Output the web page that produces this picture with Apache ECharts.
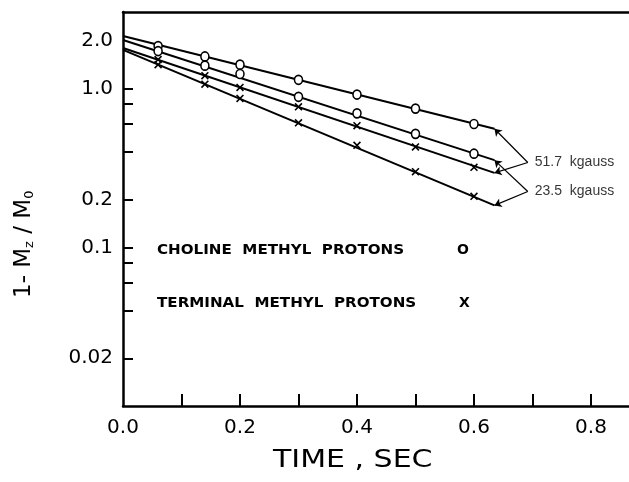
<!DOCTYPE html>
<html>
<head>
<meta charset="utf-8">
<script src="https://cdn.jsdelivr.net/npm/echarts@6.0.0/dist/echarts.min.js"></script>
<style>
html, body { margin: 0; padding: 0; background: #fff; }
#chart { width: 629px; height: 482px; }
</style>
</head>
<body>
<div id="chart"></div>
<script>
// measured times (sec) of the points
var times = [0.06, 0.14, 0.2, 0.3, 0.4, 0.5, 0.6];
// 1 - Mz/M0
var cholineHigh = [1.86, 1.60, 1.42, 1.14, 0.92, 0.75, 0.60];   // 51.7 kgauss, o
var cholineLow = [1.73, 1.40, 1.24, 0.89, 0.70, 0.52, 0.39];    // 23.5 kgauss, o
var terminalHigh = [1.53, 1.21, 1.02, 0.77, 0.585, 0.43, 0.32]; // 51.7 kgauss, x
var terminalLow = [1.42, 1.07, 0.87, 0.61, 0.44, 0.30, 0.21];   // 23.5 kgauss, x

// fitted straight lines: value at start and end time
var fitTimes = [0, 0.635];
var fitCholineHigh = [2.15, 0.56];
var fitCholineLow = [2.03, 0.355];
var fitTerminalHigh = [1.81, 0.295];
var fitTerminalLow = [1.76, 0.184];

// where the label arrows meet
var joint517 = [0.692, 0.343];
var joint235 = [0.692, 0.225];
var fieldLabels = ['51.7  kgauss', '23.5  kgauss'];

var xLabelValues = [0, 0.2, 0.4, 0.6, 0.8];
var xTickValues = [0.1, 0.2, 0.3, 0.4, 0.5, 0.6, 0.7, 0.8];
var yLabelValues = [0.02, 0.1, 0.2, 1, 2];
var yTickValues = [0.02, 0.04, 0.06, 0.08, 0.1, 0.2, 0.4, 0.6, 0.8, 1];

var font = 'DejaVu Sans';
var crossPath = 'path://M0,1.4L1.4,0L10,8.6L8.6,10Z M8.6,0L10,1.4L1.4,10L0,8.6Z';

function pairs(xs, ys) {
  return xs.map(function (x, i) { return [x, ys[i]]; });
}

function fitSeries(vals, joint) {
  return {
    type: 'line',
    data: pairs(fitTimes, vals),
    symbol: 'none',
    lineStyle: { color: '#000', width: 2 },
    silent: true,
    markLine: {
      silent: true,
      symbol: ['none', 'arrow'],
      symbolSize: 7,
      label: { show: false },
      lineStyle: { color: '#000', width: 1.2, type: 'solid' },
      data: [[{ coord: joint }, { coord: [fitTimes[1], vals[1]] }]]
    }
  };
}

function pointSeries(vals, symbol) {
  return {
    type: 'scatter',
    data: pairs(times, vals),
    symbol: symbol,
    symbolSize: symbol === 'circle' ? [8, 9] : 8,
    itemStyle: symbol === 'circle'
      ? { color: '#fff', borderColor: '#000', borderWidth: 1.6, opacity: 1 }
      : { color: '#000', opacity: 1 },
    z: 5
  };
}

var chart = echarts.init(document.getElementById('chart'));
chart.setOption({
  animation: false,
  backgroundColor: '#fff',
  grid: { left: 123, top: 12, right: 0, bottom: 76 },
  xAxis: [{
    type: 'value',
    min: 0,
    max: 0.865,
    axisLine: { lineStyle: { color: '#000', width: 2.5 } },
    axisTick: { inside: true, length: 12, customValues: xTickValues, lineStyle: { color: '#000', width: 2 } },
    axisLabel: {
      customValues: xLabelValues,
      margin: 12,
      color: '#000',
      fontFamily: font,
      fontSize: 20,
      formatter: function (v) { return v.toFixed(1); }
    },
    splitLine: { show: false }
  }, {
    type: 'value',
    position: 'top',
    min: 0,
    max: 0.865,
    axisLine: { show: true, lineStyle: { color: '#000', width: 2.5 } },
    axisTick: { show: false },
    axisLabel: { show: false },
    splitLine: { show: false }
  }],
  yAxis: {
    type: 'log',
    logBase: 10,
    min: 0.01,
    max: 3.05,
    axisLine: { show: true, lineStyle: { color: '#000', width: 2.5 } },
    axisTick: { show: true, inside: true, length: 10, customValues: yTickValues, lineStyle: { color: '#000', width: 2 } },
    axisLabel: {
      customValues: yLabelValues,
      margin: 10,
      color: '#000',
      fontFamily: font,
      fontSize: 20,
      formatter: function (v) { return v >= 1 ? v.toFixed(1) : String(+v.toPrecision(2)); }
    },
    splitLine: { show: false },
    minorTick: { show: false }
  },
  series: [
    fitSeries(fitCholineHigh, joint517),
    fitSeries(fitCholineLow, joint235),
    fitSeries(fitTerminalHigh, joint517),
    fitSeries(fitTerminalLow, joint235),
    pointSeries(cholineHigh, 'circle'),
    pointSeries(cholineLow, 'circle'),
    pointSeries(terminalHigh, crossPath),
    pointSeries(terminalLow, crossPath),
    {
      type: 'scatter',
      symbolSize: 0,
      silent: true,
      data: [[joint517[0], joint517[1], fieldLabels[0]], [joint235[0], joint235[1], fieldLabels[1]]],
      label: {
        show: true,
        position: 'right',
        distance: 7,
        color: '#000',
        fontFamily: 'Liberation Sans',
        fontSize: 14,
        formatter: function (p) { return p.data[2]; }
      }
    }
  ],
  graphic: [
    {
      type: 'text', left: 157, top: 243, scaleX: 1.08,
      style: { text: 'CHOLINE  METHYL  PROTONS', font: 'bold 14px "DejaVu Sans"', fill: '#000' }
    },
    {
      type: 'text', left: 457, top: 243,
      style: { text: 'O', font: 'bold 14px "DejaVu Sans"', fill: '#000' }
    },
    {
      type: 'text', left: 157, top: 296, scaleX: 1.08,
      style: { text: 'TERMINAL  METHYL  PROTONS', font: 'bold 14px "DejaVu Sans"', fill: '#000' }
    },
    {
      type: 'text', left: 459, top: 296,
      style: { text: 'X', font: 'bold 14px "DejaVu Sans"', fill: '#000' }
    },
    {
      type: 'text', left: 273, top: 448, scaleX: 1.2,
      style: { text: 'TIME , SEC', font: '25px "DejaVu Sans"', fill: '#000' }
    },
    {
      type: 'text', x: 13, y: 298, rotation: Math.PI / 2,
      style: {
        text: '{m|1- M}{s|z}{m| / M}{s|0}',
        fill: '#000',
        rich: {
          m: { fontFamily: font, fontSize: 23 },
          s: { fontFamily: font, fontSize: 13, padding: [10, 0, 0, 0] }
        }
      }
    }
  ]
});
</script>
</body>
</html>
